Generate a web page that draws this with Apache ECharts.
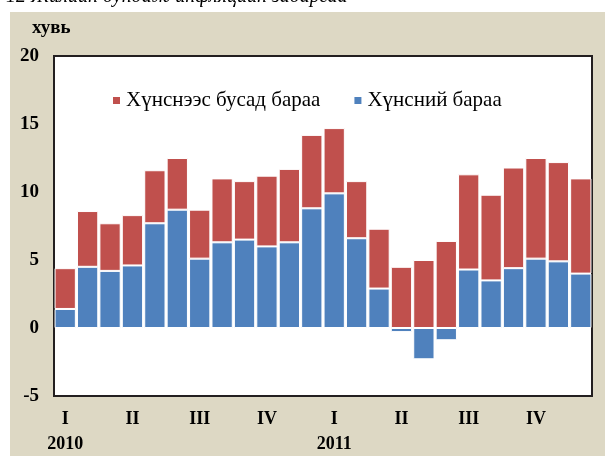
<!DOCTYPE html>
<html>
<head>
<meta charset="utf-8">
<script src="https://cdn.jsdelivr.net/npm/echarts@6/dist/echarts.min.js"></script>
<style>
  html, body { margin: 0; padding: 0; background: #fff; }
  #chartmain { width: 605px; height: 456px; }
</style>
</head>
<body>
<div id="chartmain"></div>
<script>
// сар бүрийн ангилал (2010 I - 2011 IV улирал)
var months = ['2010-1','2010-2','2010-3','2010-4','2010-5','2010-6','2010-7','2010-8','2010-9','2010-10','2010-11','2010-12',
              '2011-1','2011-2','2011-3','2011-4','2011-5','2011-6','2011-7','2011-8','2011-9','2011-10','2011-11','2011-12'];
var quarterLabels = ['I', 'II', 'III', 'IV', 'I', 'II', 'III', 'IV'];
var yearLabels = ['2010', '', '', '', '2011', '', '', ''];

// Хүнсний бараа
var foodData = [1.4, 4.5, 4.2, 4.6, 7.7, 8.7, 5.1, 6.3, 6.5, 6.0, 6.3, 8.8,
                9.9, 6.6, 2.9, -0.3, -2.3, -0.9, 4.3, 3.5, 4.4, 5.1, 4.9, 4.0];
// Хүнснээс бусад бараа
var nonFoodData = [3.0, 4.1, 3.5, 3.7, 3.9, 3.8, 3.6, 4.7, 4.3, 5.2, 5.4, 5.4,
                   4.8, 4.2, 4.4, 4.5, 5.0, 6.4, 7.0, 6.3, 7.4, 7.4, 7.3, 7.0];

var yTicks = [-5, 0, 5, 10, 15, 20];

var myChart = echarts.init(document.getElementById('chartmain'));
var serif = 'Liberation Serif';

var option = {
    backgroundColor: '#fff',
    animation: false,
    graphic: [
        {
            type: 'rect',
            shape: {x: 10, y: 12, width: 595, height: 444},
            style: {fill: '#DDD8C4'},
            z: -10
        },
        {
            type: 'text',
            left: 6,
            top: -13,
            style: {
                text: '12 Жилийн дундаж инфляцийн задаргаа',
                font: 'italic 20px "Liberation Serif"',
                fill: '#000'
            }
        },
        {
            type: 'text',
            left: 32,
            top: 19,
            style: {
                text: 'хувь',
                font: 'bold 19px "Liberation Serif"',
                fill: '#000'
            }
        }
    ],
    legend: {
        data: ['Хүнснээс бусад бараа', 'Хүнсний бараа'],
        left: 106,
        top: 85,
        icon: 'rect',
        itemWidth: 9,
        itemHeight: 9,
        itemGap: 32,
        textStyle: {
            fontFamily: serif,
            fontSize: 21,
            color: '#000'
        }
    },
    grid: {
        left: 54,
        right: 13,
        top: 56,
        bottom: 60,
        show: true,
        backgroundColor: '#fff',
        borderColor: '#231F20',
        borderWidth: 2,
        containLabel: false,
        outerBoundsMode: 'none'
    },
    xAxis: [{
        type: 'category',
        data: months,
        axisLine: {show: false},
        axisTick: {show: false},
        axisLabel: {
            interval: 0,
            margin: 11,
            lineHeight: 25,
            fontFamily: serif,
            fontWeight: 'bold',
            fontSize: 18,
            color: '#000',
            formatter: function (val, idx) {
                if (idx % 3 !== 0) return '';
                var q = idx / 3;
                return yearLabels[q] ? quarterLabels[q] + '\n' + yearLabels[q] : quarterLabels[q];
            }
        }
    }],
    yAxis: [{
        type: 'value',
        min: yTicks[0],
        max: yTicks[yTicks.length - 1],
        interval: 5,
        splitLine: {show: false},
        axisLine: {show: false},
        axisTick: {show: false},
        axisLabel: {
            margin: 15,
            fontFamily: serif,
            fontWeight: 'bold',
            fontSize: 19,
            color: '#000'
        }
    }],
    series: [
        {
            name: 'Хүнсний бараа',
            type: 'bar',
            stack: 'sum',
            barCategoryGap: '5%',
            itemStyle: {
                color: '#4F81BD',
                borderColor: '#fff',
                borderWidth: 1
            },
            data: foodData
        },
        {
            name: 'Хүнснээс бусад бараа',
            type: 'bar',
            stack: 'sum',
            barCategoryGap: '5%',
            itemStyle: {
                color: '#C0504D',
                borderColor: '#fff',
                borderWidth: 1
            },
            data: nonFoodData
        }
    ]
};

myChart.setOption(option);
</script>
</body>
</html>
